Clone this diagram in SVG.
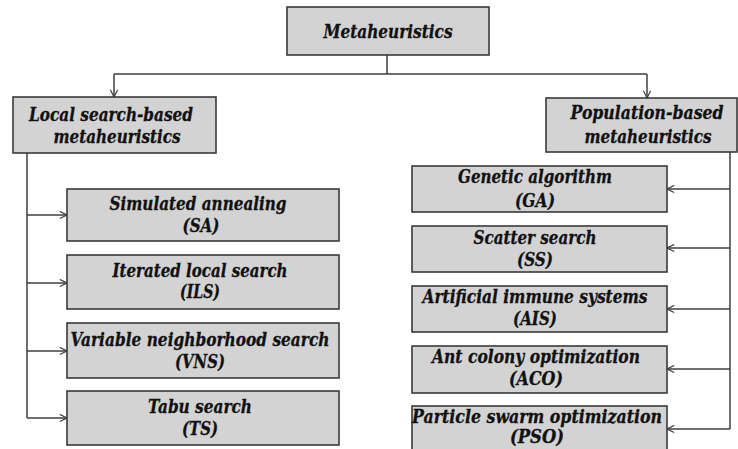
<svg xmlns="http://www.w3.org/2000/svg" width="738" height="449" viewBox="0 0 738 449">
<style>
.box{fill:#d3d3d3;stroke:#3a3a3a;stroke-width:1.6}
.t{font-family:"DejaVu Serif","Liberation Serif",serif;font-weight:bold;font-style:italic;font-size:18px;fill:#111;stroke:#111;stroke-width:0.3;text-anchor:middle}
.c{fill:none;stroke:#3f3f3f;stroke-width:1.5}
</style>
<defs>
<marker id="ah" viewBox="0 0 10 10" refX="9" refY="5" markerWidth="9" markerHeight="9" markerUnits="userSpaceOnUse" orient="auto">
<path d="M1,1 L9,5 L1,9" fill="none" stroke="#3f3f3f" stroke-width="1.3"/>
</marker>
</defs>
<rect width="738" height="449" fill="#fff"/>
<g id="connectors">
<path class="c" d="M387,55 V74 M114,74 H647"/>
<path class="c" d="M114,74 V97" marker-end="url(#ah)"/>
<path class="c" d="M647,74 V98" marker-end="url(#ah)"/>
<path class="c" d="M27,153 V418"/>
<path class="c" d="M27,215 H67" marker-end="url(#ah)"/>
<path class="c" d="M27,283 H67" marker-end="url(#ah)"/>
<path class="c" d="M27,351 H67" marker-end="url(#ah)"/>
<path class="c" d="M27,418 H67" marker-end="url(#ah)"/>
<path class="c" d="M730,152 V429"/>
<path class="c" d="M730,189 H667" marker-end="url(#ah)"/>
<path class="c" d="M730,248 H667" marker-end="url(#ah)"/>
<path class="c" d="M730,309 H667" marker-end="url(#ah)"/>
<path class="c" d="M730,369 H667" marker-end="url(#ah)"/>
<path class="c" d="M730,429 H667" marker-end="url(#ah)"/>
</g>
<g id="metaheuristics">
<rect class="box" x="287" y="7" width="202" height="48"/>
<text class="t" x="388" y="38" textLength="129" lengthAdjust="spacingAndGlyphs">Metaheuristics</text>
</g>
<g id="local">
<rect class="box" x="13" y="97" width="203" height="56"/>
<text class="t" x="111" y="121" textLength="164" lengthAdjust="spacingAndGlyphs">Local search-based</text>
<text class="t" x="117" y="143" textLength="127" lengthAdjust="spacingAndGlyphs">metaheuristics</text>
</g>
<g id="population">
<rect class="box" x="546" y="98" width="191" height="54"/>
<text class="t" x="647" y="119" textLength="153" lengthAdjust="spacingAndGlyphs">Population-based</text>
<text class="t" x="648" y="143" textLength="127" lengthAdjust="spacingAndGlyphs">metaheuristics</text>
</g>
<g id="sa">
<rect class="box" x="67" y="189" width="272" height="52"/>
<text class="t" x="198" y="210" textLength="177" lengthAdjust="spacingAndGlyphs">Simulated annealing</text>
<text class="t" x="201" y="232" textLength="37" lengthAdjust="spacingAndGlyphs">(SA)</text>
</g>
<g id="ils">
<rect class="box" x="67" y="255" width="272" height="54"/>
<text class="t" x="200" y="277" textLength="175" lengthAdjust="spacingAndGlyphs">Iterated local search</text>
<text class="t" x="200" y="298" textLength="40" lengthAdjust="spacingAndGlyphs">(ILS)</text>
</g>
<g id="vns">
<rect class="box" x="67" y="323" width="272" height="55"/>
<text class="t" x="200" y="346" textLength="259" lengthAdjust="spacingAndGlyphs">Variable neighborhood search</text>
<text class="t" x="200" y="368" textLength="50" lengthAdjust="spacingAndGlyphs">(VNS)</text>
</g>
<g id="ts">
<rect class="box" x="67" y="391" width="272" height="54"/>
<text class="t" x="200" y="413" textLength="104" lengthAdjust="spacingAndGlyphs">Tabu search</text>
<text class="t" x="200" y="435" textLength="36" lengthAdjust="spacingAndGlyphs">(TS)</text>
</g>
<g id="ga">
<rect class="box" x="412" y="166" width="255" height="46"/>
<text class="t" x="535" y="183" textLength="154" lengthAdjust="spacingAndGlyphs">Genetic algorithm</text>
<text class="t" x="535" y="207" textLength="40" lengthAdjust="spacingAndGlyphs">(GA)</text>
</g>
<g id="ss">
<rect class="box" x="412" y="226" width="255" height="46"/>
<text class="t" x="535" y="244" textLength="123" lengthAdjust="spacingAndGlyphs">Scatter search</text>
<text class="t" x="535" y="266" textLength="36" lengthAdjust="spacingAndGlyphs">(SS)</text>
</g>
<g id="ais">
<rect class="box" x="412" y="286" width="255" height="46"/>
<text class="t" x="535" y="303" textLength="225" lengthAdjust="spacingAndGlyphs">Artificial immune systems</text>
<text class="t" x="535" y="325" textLength="44" lengthAdjust="spacingAndGlyphs">(AIS)</text>
</g>
<g id="aco">
<rect class="box" x="412" y="346" width="255" height="47"/>
<text class="t" x="536" y="363" textLength="208" lengthAdjust="spacingAndGlyphs">Ant colony optimization</text>
<text class="t" x="536" y="385" textLength="54" lengthAdjust="spacingAndGlyphs">(ACO)</text>
</g>
<g id="pso">
<rect class="box" x="412" y="406" width="255" height="50"/>
<text class="t" x="537" y="423" textLength="250" lengthAdjust="spacingAndGlyphs">Particle swarm optimization</text>
<text class="t" x="537" y="443" textLength="54" lengthAdjust="spacingAndGlyphs">(PSO)</text>
</g>
</svg>
